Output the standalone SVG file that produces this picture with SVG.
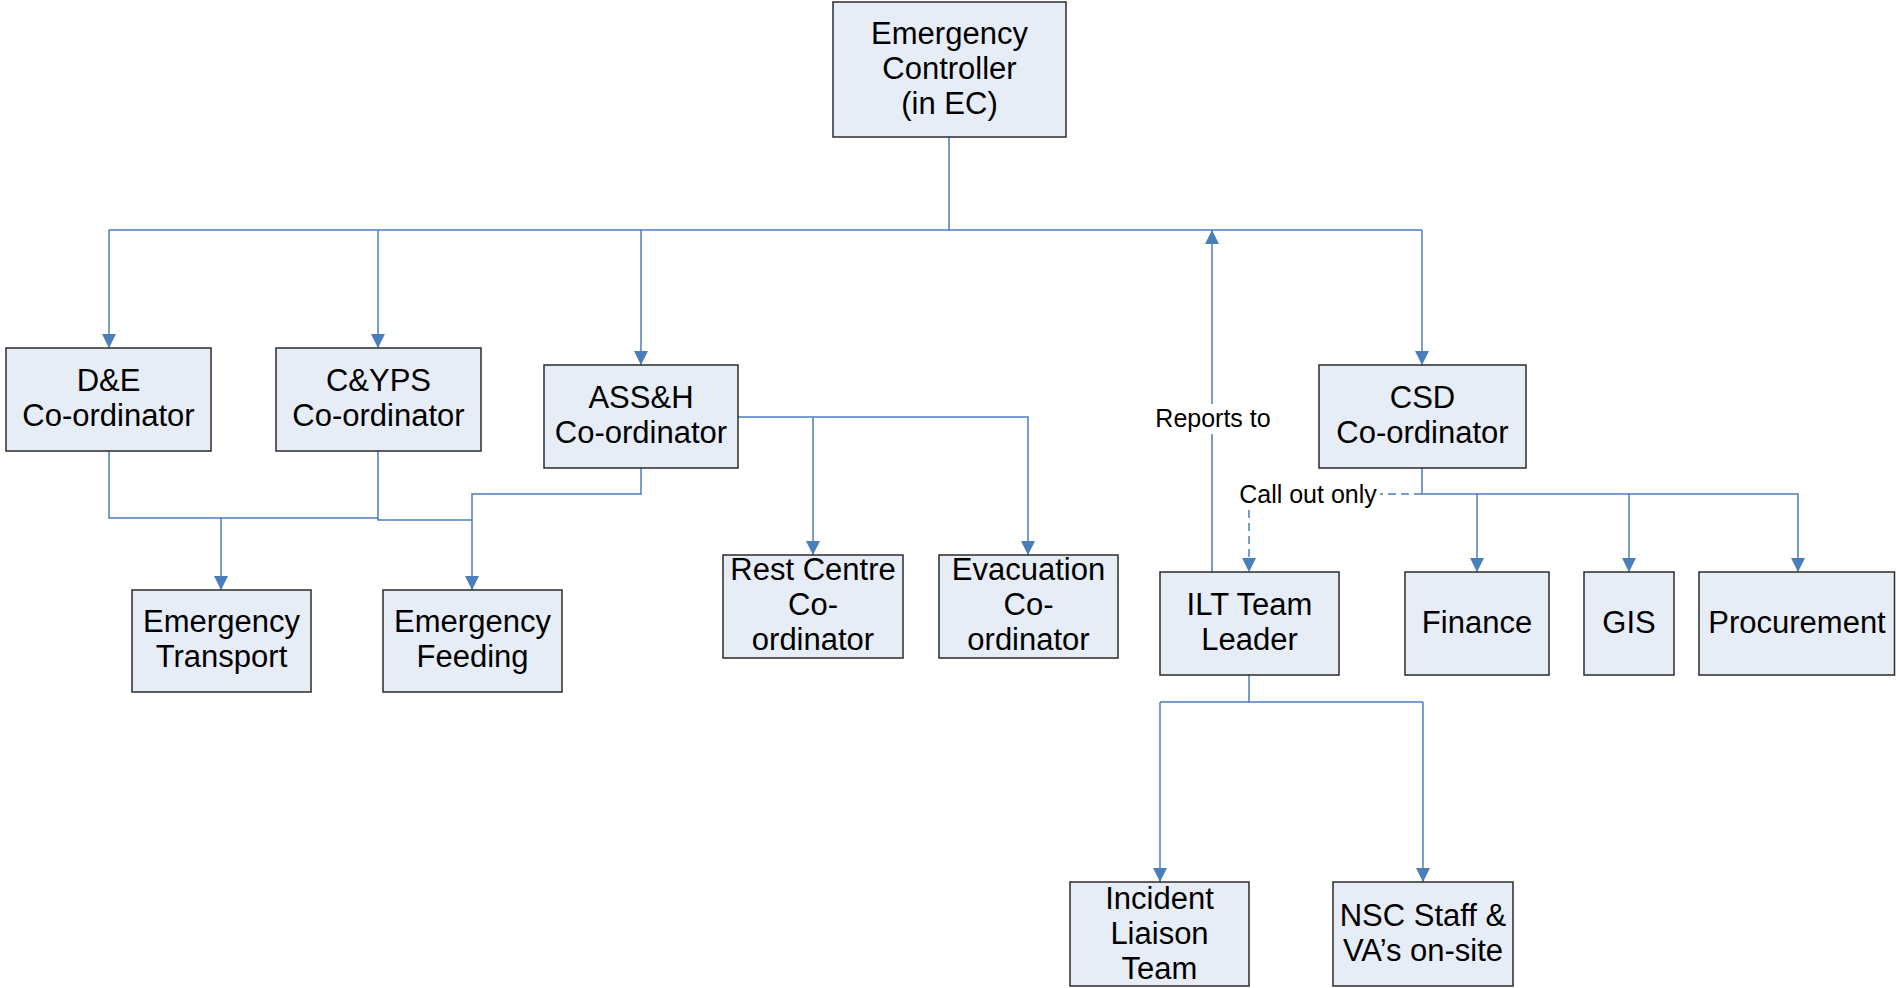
<svg xmlns="http://www.w3.org/2000/svg" width="1896" height="988" viewBox="0 0 1896 988">
<style>
.box{fill:#E7EDF7;stroke:#2b2b2b;stroke-width:1.5}
.t{font-family:"Liberation Sans",Arial,sans-serif;font-size:31px;fill:#000;text-anchor:middle}
.s{font-family:"Liberation Sans",Arial,sans-serif;font-size:25px;fill:#000;text-anchor:middle}
.c{fill:none;stroke:#4A7EBB;stroke-width:1.5}
.d{fill:none;stroke:#4A7EBB;stroke-width:1.5;stroke-dasharray:8 5}
</style>
<defs>
<marker id="ah" viewBox="0 0 10 10" refX="10" refY="5" markerWidth="14" markerHeight="14" markerUnits="userSpaceOnUse" orient="auto">
<path d="M0,0 L10,5 L0,10 z" fill="#4A7EBB"/>
</marker>
</defs>
<rect width="1896" height="988" fill="#fff"/>
<g id="connectors">
<path class="c" d="M949,137 V230"/>
<path class="c" d="M109,230 H1422"/>
<path class="c" d="M109,230 V348" marker-end="url(#ah)"/>
<path class="c" d="M378,230 V348" marker-end="url(#ah)"/>
<path class="c" d="M641,230 V365" marker-end="url(#ah)"/>
<path class="c" d="M1422,230 V365" marker-end="url(#ah)"/>
<path class="c" d="M1212,572 V230" marker-end="url(#ah)"/>
<path class="c" d="M109,451 V518 H378"/>
<path class="c" d="M221,518 V590" marker-end="url(#ah)"/>
<path class="c" d="M378,451 V520 H472 V590" marker-end="url(#ah)"/>
<path class="c" d="M641,468 V494 H472 V520"/>
<path class="c" d="M738,417 H1028 V555" marker-end="url(#ah)"/>
<path class="c" d="M813,417 V555" marker-end="url(#ah)"/>
<path class="c" d="M1422,468 V494 H1798 V572" marker-end="url(#ah)"/>
<path class="c" d="M1477,494 V572" marker-end="url(#ah)"/>
<path class="c" d="M1629,494 V572" marker-end="url(#ah)"/>
<path class="d" d="M1422,494 H1380"/>
<path class="d" d="M1249,510 V572" marker-end="url(#ah)"/>
<path class="c" d="M1249,675 V702"/>
<path class="c" d="M1160,702 H1423"/>
<path class="c" d="M1160,702 V882" marker-end="url(#ah)"/>
<path class="c" d="M1423,702 V882" marker-end="url(#ah)"/>
<rect x="1152" y="404" width="122" height="30" fill="#fff"/>
<text class="s" x="1213" y="427">Reports to</text>
<text class="s" x="1308" y="503">Call out only</text>
</g>
<g id="n-ec"><rect class="box" x="833" y="2" width="233" height="135"/>
<text class="t" x="949.5" y="44">Emergency</text><text class="t" x="949.5" y="79">Controller</text><text class="t" x="949.5" y="114">(in EC)</text></g>
<g id="n-de"><rect class="box" x="6" y="348" width="205" height="103"/>
<text class="t" x="108.5" y="391">D&amp;E</text><text class="t" x="108.5" y="426">Co-ordinator</text></g>
<g id="n-cyps"><rect class="box" x="276" y="348" width="205" height="103"/>
<text class="t" x="378.5" y="391">C&amp;YPS</text><text class="t" x="378.5" y="426">Co-ordinator</text></g>
<g id="n-assh"><rect class="box" x="544" y="365" width="194" height="103"/>
<text class="t" x="641" y="408">ASS&amp;H</text><text class="t" x="641" y="443">Co-ordinator</text></g>
<g id="n-csd"><rect class="box" x="1319" y="365" width="207" height="103"/>
<text class="t" x="1422.5" y="408">CSD</text><text class="t" x="1422.5" y="443">Co-ordinator</text></g>
<g id="n-transport"><rect class="box" x="132" y="590" width="179" height="102"/>
<text class="t" x="221.5" y="632">Emergency</text><text class="t" x="221.5" y="667">Transport</text></g>
<g id="n-feeding"><rect class="box" x="383" y="590" width="179" height="102"/>
<text class="t" x="472.5" y="632">Emergency</text><text class="t" x="472.5" y="667">Feeding</text></g>
<g id="n-rest"><rect class="box" x="723" y="555" width="180" height="103"/>
<text class="t" x="813" y="580">Rest Centre</text><text class="t" x="813" y="615">Co-</text><text class="t" x="813" y="650">ordinator</text></g>
<g id="n-evac"><rect class="box" x="939" y="555" width="179" height="103"/>
<text class="t" x="1028.5" y="580">Evacuation</text><text class="t" x="1028.5" y="615">Co-</text><text class="t" x="1028.5" y="650">ordinator</text></g>
<g id="n-ilt"><rect class="box" x="1160" y="572" width="179" height="103"/>
<text class="t" x="1249.5" y="615">ILT Team</text><text class="t" x="1249.5" y="650">Leader</text></g>
<g id="n-finance"><rect class="box" x="1405" y="572" width="144" height="103"/>
<text class="t" x="1477" y="633">Finance</text></g>
<g id="n-gis"><rect class="box" x="1584" y="572" width="90" height="103"/>
<text class="t" x="1629" y="633">GIS</text></g>
<g id="n-proc"><rect class="box" x="1699" y="572" width="195.5" height="103"/>
<text class="t" x="1797" y="633">Procurement</text></g>
<g id="n-incident"><rect class="box" x="1070" y="882" width="179" height="104"/>
<text class="t" x="1159.5" y="909">Incident</text><text class="t" x="1159.5" y="944">Liaison</text><text class="t" x="1159.5" y="979">Team</text></g>
<g id="n-nsc"><rect class="box" x="1333" y="882" width="180" height="104"/>
<text class="t" x="1423" y="926">NSC Staff &amp;</text><text class="t" x="1423" y="961">VA’s on-site</text></g>
</svg>
